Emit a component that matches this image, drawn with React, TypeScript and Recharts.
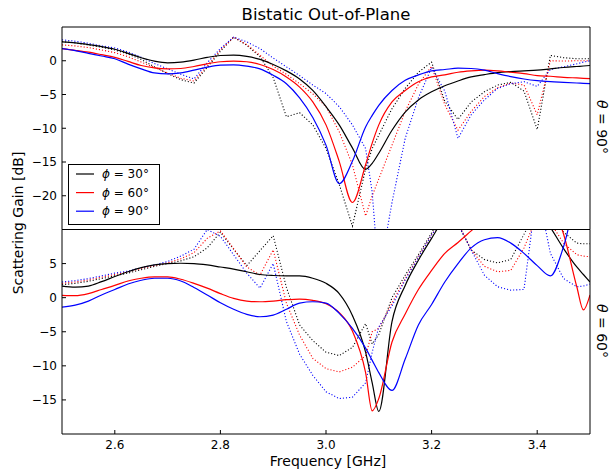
import React from "react";
import { LineChart, Line, XAxis, YAxis } from "recharts";

// frequency grid [GHz] (two extra points where the dips are sharp)
const freq = [
  2.5, 2.525, 2.55, 2.575, 2.6, 2.625, 2.65, 2.675,
  2.7, 2.725, 2.75, 2.775, 2.8, 2.825, 2.85, 2.875,
  2.9, 2.925, 2.95, 2.975, 3.0, 3.025, 3.05, 3.075,
  3.0875, 3.1, 3.125, 3.15, 3.175, 3.2, 3.225, 3.25,
  3.275, 3.3, 3.325, 3.35, 3.375, 3.4, 3.425, 3.45,
  3.475, 3.4875, 3.5,
];

// theta = 90 deg panel, solid
const t90Phi30 = [
  2.8, 2.65, 2.4, 2.1, 1.7, 1.1, 0.45, -0.05,
  -0.3, -0.2, 0.1, 0.5, 0.78, 0.83, 0.65, 0.2,
  -0.55, -1.5, -2.7, -4.4, -6.8, -9.5, -12.9, -16.1,
  -15.2, -13.7, -10.3, -7.6, -5.8, -4.6, -3.7, -3.0,
  -2.4, -2.05, -1.75, -1.6, -1.5, -1.4, -1.2, -1.0,
  -0.85, -0.78, -0.7,
];
const t90Phi60 = [
  1.8, 1.55, 1.27, 0.9, 0.5, -0.1, -0.7, -1.05,
  -1.2, -1.15, -0.85, -0.45, -0.15, -0.05, -0.15, -0.55,
  -1.3, -2.4, -3.9, -6.1, -9.5, -14.9, -21.0, -15.4,
  -12.2, -9.5, -6.1, -4.4, -3.1, -2.4, -2.1, -1.7,
  -1.5, -1.4, -1.5, -1.7, -1.9, -2.2, -2.3, -2.45,
  -2.55, -2.6, -2.65,
];
const t90Phi90 = [
  1.8, 1.5, 1.1, 0.7, 0.3, -0.5, -1.2, -1.8,
  -1.95, -1.8, -1.4, -0.95, -0.65, -0.6, -0.8, -1.2,
  -2.15, -3.4, -5.5, -8.4, -12.5, -18.2, -14.9, -9.8,
  -8.1, -6.6, -4.4, -2.9, -2.1, -1.5, -1.3, -1.1,
  -1.15, -1.4, -1.9, -2.35, -2.7, -2.95, -3.1, -3.2,
  -3.3, -3.35, -3.4,
];
// theta = 90 deg panel, dotted
const t90Phi30d = [
  2.85, 2.65, 2.35, 2.0, 1.6, 1.0, 0.2, -0.9,
  -1.9, -2.8, -3.3, -1.0, 1.4, 3.5, 2.3, 0.6,
  -2.5, -8.3, -7.7, -9.5, -13.0, -18.3, -24.5, -16.0,
  -13.0, -11.0, -7.1, -4.1, -1.7, -0.2, -6.0, -8.7,
  -6.1, -4.6, -3.6, -3.2, -4.5, -10.2, 0.8, 0.45,
  0.3, 0.3, 0.3,
];
const t90Phi60d = [
  2.35, 2.2, 1.95, 1.6, 1.2, 0.6, -0.2, -1.0,
  -1.8, -2.6, -3.0, -0.8, 1.6, 3.5, 2.4, 0.8,
  -0.8, -2.0, -3.4, -4.9, -6.8, -10.5, -15.4, -23.0,
  -20.0, -17.5, -12.5, -7.5, -3.5, -0.8, -6.5, -10.3,
  -7.5, -5.3, -4.0, -3.3, -3.6, -8.0, 0.0, -0.05,
  0.0, 0.0, 0.0,
];
const t90Phi90d = [
  3.1, 2.9, 2.6, 2.2, 1.9, 1.3, 0.5, -0.4,
  -1.2, -2.0, -2.7, -0.3, 1.8, 3.5, 2.8, 1.8,
  0.4, -0.9, -2.2, -3.6, -4.85, -6.8, -9.5, -13.0,
  -19.5, -32.0, -21.0, -11.5, -5.5, -1.0, -4.5, -11.5,
  -8.0, -5.8, -4.1, -3.4, -3.1, -3.8, -1.3, -0.9,
  -0.45, -0.2, 0.0,
];

// theta = 60 deg panel, solid
const t60Phi30 = [
  1.7, 1.55, 1.7, 2.35, 3.1, 3.8, 4.4, 4.8,
  5.0, 5.05, 5.0, 4.8, 4.5, 4.2, 3.8, 3.4,
  3.25, 3.2, 3.2, 2.85, 2.1, 0.6, -2.6, -8.0,
  -12.5, -16.7, -3.5, 1.8, 5.5, 8.7, 11.8, 14.0,
  16.0, 17.0, 17.5, 17.0, 15.5, 13.0, 10.3, 7.2,
  4.5, 3.4, 2.3,
];
const t60Phi60 = [
  0.35, 0.3, 0.6, 1.2, 1.8, 2.45, 2.85, 3.05,
  3.05, 2.7, 2.1, 1.4, 0.6, -0.1, -0.5, -0.6,
  -0.5, -0.3, -0.2, -0.4, -0.9, -2.2, -4.9, -11.0,
  -16.6, -14.8, -6.5, -2.4, 1.2, 4.0, 6.5, 8.1,
  9.8, 11.5, 13.0, 14.0, 14.5, 15.0, 14.0, 9.3,
  1.6, -1.8, 0.4,
];
const t60Phi90 = [
  -1.4, -1.1, -0.5, 0.4, 1.2, 2.0, 2.55, 2.85,
  2.85, 2.45, 1.5, 0.4, -0.75, -1.7, -2.45, -2.8,
  -2.55, -1.7, -0.8, -0.6, -0.8, -2.3, -4.5, -7.4,
  -9.2, -11.0, -13.6, -9.0, -4.0, -1.0, 2.3, 5.0,
  7.3, 8.5, 8.8, 8.0, 6.5, 4.7, 3.2, 7.5,
  15.0, 17.0, 18.0,
];
// theta = 60 deg panel, dotted
const t60Phi30d = [
  1.9, 2.1, 2.4, 2.8, 3.2, 3.6, 4.1, 4.6,
  5.0, 5.4, 6.0, 7.3, 9.6, 7.1, 4.7, 6.9,
  9.1, 1.5, -4.0, -6.3, -8.0, -8.5, -7.3, -3.8,
  -6.8, -5.4, 0.0, 3.3, 6.3, 9.5, 13.0, 10.8,
  7.0, 5.6, 5.1, 5.6, 9.3, 13.0, 12.5, 9.6,
  8.0, 7.9, 7.9,
];
const t60Phi60d = [
  2.1, 2.3, 2.6, 3.0, 3.4, 3.8, 4.3, 4.7,
  5.1, 5.7, 6.6, 8.7, 9.8, 7.2, 4.5, 3.3,
  7.0, -0.8, -5.5, -8.9, -10.4, -10.9, -10.2, -8.5,
  -5.0, -4.5, -0.8, 2.8, 6.0, 9.2, 12.0, 11.0,
  7.0, 4.6, 3.8, 4.0, 7.3, 12.0, 11.0, 8.0,
  6.3, 6.1, 6.0,
];
const t60Phi90d = [
  2.3, 2.5, 2.8, 3.2, 3.6, 3.9, 4.4, 4.8,
  5.3, 6.1, 7.1, 10.0, 9.0, 6.3, 3.6, 1.4,
  5.0, -3.5, -8.3, -11.4, -13.8, -14.8, -14.6, -12.5,
  -8.0, -4.3, -1.2, 2.6, 5.9, 9.2, 12.0, 10.8,
  7.0, 3.3, 1.6, 1.1, 1.2, 16.0, 6.5, 2.8,
  1.6, 1.7, 2.0,
];

const xTicks = [2.6, 2.8, 3.0, 3.2, 3.4];
const topYTicks = [-20, -15, -10, -5, 0];
const bottomYTicks = [-15, -10, -5, 0, 5];

const legendItems = [
  { label: "30", color: "#000000" },
  { label: "60", color: "#ff0000" },
  { label: "90", color: "#0000ff" },
];

const FONT = "'DejaVu Sans', Verdana, sans-serif";
const tickStyle = { fill: "#000", fontSize: 12, fontFamily: FONT };

const buildRows = (s: number[][]) =>
  freq.map((f, i) => ({
    f,
    s30: s[0][i], s60: s[1][i], s90: s[2][i],
    d30: s[3][i], d60: s[4][i], d90: s[5][i],
  }));

const topRows = buildRows([t90Phi30, t90Phi60, t90Phi90, t90Phi30d, t90Phi60d, t90Phi90d]);
const bottomRows = buildRows([t60Phi30, t60Phi60, t60Phi90, t60Phi30d, t60Phi60d, t60Phi90d]);

const seriesDefs = [
  { key: "d30", color: "#000000", dotted: true },
  { key: "d60", color: "#ff0000", dotted: true },
  { key: "d90", color: "#0000ff", dotted: true },
  { key: "s30", color: "#000000", dotted: false },
  { key: "s60", color: "#ff0000", dotted: false },
  { key: "s90", color: "#0000ff", dotted: false },
];

const fmtY = (v: number) => (v < 0 ? `\u2212${Math.abs(v)}` : `${v}`);

function Panel({ rows, yDomain, yTicks, height, marginTop, showXLabels }: any) {
  return (
    <LineChart
      width={609}
      height={height}
      data={rows}
      margin={{ top: marginTop, right: 18, bottom: 0, left: 22 }}
    >
      <XAxis
        dataKey="f"
        type="number"
        domain={[2.5, 3.5]}
        ticks={xTicks}
        interval={0}
        allowDataOverflow
        height={30}
        stroke="#000"
        tickSize={-4}
        tickMargin={10}
        tick={showXLabels ? tickStyle : false}
        tickFormatter={(v) => v.toFixed(1)}
      />
      <XAxis
        xAxisId="top"
        orientation="top"
        dataKey="f"
        type="number"
        domain={[2.5, 3.5]}
        ticks={xTicks}
        interval={0}
        allowDataOverflow
        height={1}
        stroke="#000"
        tickSize={-4}
        tick={false}
      />
      <YAxis
        type="number"
        domain={yDomain}
        ticks={yTicks}
        interval={0}
        allowDataOverflow
        width={40}
        stroke="#000"
        tickSize={-4}
        tickMargin={9}
        tick={tickStyle}
        tickFormatter={fmtY}
      />
      <YAxis
        yAxisId="right"
        orientation="right"
        type="number"
        domain={yDomain}
        ticks={yTicks}
        interval={0}
        allowDataOverflow
        width={1}
        stroke="#000"
        tickSize={-4}
        tick={false}
      />
      {seriesDefs.map((s) => (
        <Line
          key={s.key}
          dataKey={s.key}
          type={s.dotted ? "linear" : "monotone"}
          stroke={s.color}
          strokeWidth={s.dotted ? 1.1 : 1.2}
          strokeDasharray={s.dotted ? "1.1 2" : undefined}
          dot={false}
          activeDot={false}
          isAnimationActive={false}
        />
      ))}
    </LineChart>
  );
}

export default function App() {
  return (
    <div style={{ position: "absolute", left: 0, top: 0, width: 609, height: 470, background: "#fff", fontFamily: FONT }}>
      <div style={{ position: "absolute", left: 0, top: 0 }}>
        <Panel rows={topRows} yDomain={[-25, 5]} yTicks={topYTicks} height={259.5} marginTop={26} showXLabels={false} />
      </div>
      <div style={{ position: "absolute", left: 0, top: 200 }}>
        <Panel rows={bottomRows} yDomain={[-20, 10]} yTicks={bottomYTicks} height={264} marginTop={28.5} showXLabels />
      </div>
      <svg width={609} height={470} style={{ position: "absolute", left: 0, top: 0, pointerEvents: "none" }} fontFamily={FONT}>
        <text x={326} y={14} textAnchor="middle" dominantBaseline="central" fontSize={16.5} fill="#000">
          Bistatic Out-of-Plane
        </text>
        <text x={328} y={461} textAnchor="middle" dominantBaseline="central" fontSize={14} fill="#000">
          Frequency [GHz]
        </text>
        <text transform="rotate(-90 18 223)" x={18} y={223} textAnchor="middle" dominantBaseline="central" fontSize={14} fill="#000">
          Scattering Gain [dB]
        </text>
        <text transform="rotate(90 602 127)" x={602} y={127} textAnchor="middle" dominantBaseline="central" fontSize={14} fill="#000">
          <tspan fontStyle="italic">θ</tspan> = 90°
        </text>
        <text transform="rotate(90 602 331)" x={602} y={331} textAnchor="middle" dominantBaseline="central" fontSize={14} fill="#000">
          <tspan fontStyle="italic">θ</tspan> = 60°
        </text>
        <rect x={68.5} y={164.5} width={91} height={60} fill="#fff" stroke="#000" strokeWidth={1} />
        {legendItems.map((item, i) => (
          <g key={item.label}>
            <line x1={76} x2={94} y1={174 + i * 18.6} y2={174 + i * 18.6} stroke={item.color} strokeWidth={1.2} />
            <text x={102} y={174 + i * 18.6} dominantBaseline="central" fontSize={12} fill="#000">
              <tspan fontStyle="italic">ϕ</tspan> = {item.label}°
            </text>
          </g>
        ))}
      </svg>
    </div>
  );
}
